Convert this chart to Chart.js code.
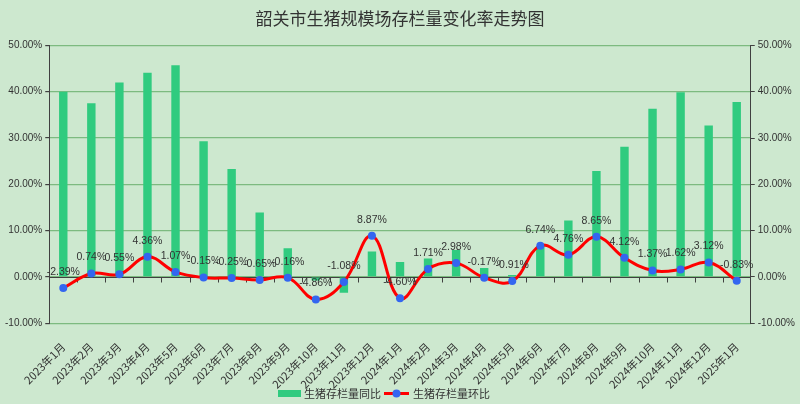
<!DOCTYPE html>
<html>
<head>
<meta charset="utf-8">
<script src="https://cdn.jsdelivr.net/npm/chart.js@4/dist/chart.umd.min.js"></script>
<style>
html,body{margin:0;padding:0;background:#cde8cf;}
#wrap{width:800px;height:404px;}
</style>
</head>
<body>
<div id="wrap"><canvas id="c" width="800" height="404"></canvas></div>
<script>
const categories = ['2023年1月','2023年2月','2023年3月','2023年4月','2023年5月','2023年6月','2023年7月','2023年8月','2023年9月','2023年10月','2023年11月','2023年12月','2024年1月','2024年2月','2024年3月','2024年4月','2024年5月','2024年6月','2024年7月','2024年8月','2024年9月','2024年10月','2024年11月','2024年12月','2025年1月'];
const yoyValues = [40.0, 37.5, 42.0, 44.1, 45.7, 29.3, 23.3, 13.9, 6.2, -0.8, -3.4, 5.5, 3.2, 4.0, 5.8, 1.9, 0.4, 6.7, 12.2, 22.9, 28.1, 36.3, 39.9, 32.7, 37.8];
const momValues = [-2.39, 0.74, 0.55, 4.36, 1.07, -0.15, -0.25, -0.65, -0.16, -4.86, -1.08, 8.87, -4.60, 1.71, 2.98, -0.17, -0.91, 6.74, 4.76, 8.65, 4.12, 1.37, 1.62, 3.12, -0.83];
const seriesNames = ['生猪存栏量同比', '生猪存栏量环比'];
const titleText = '韶关市生猪规模场存栏量变化率走势图';

const BG = '#cde8cf';
const BAR = '#30cb7f';
const LINE = '#ff0000';
const PT = '#3366f0';
const GRID = '#7dba80';
const AXIS = '#404040';
const TXT = '#333333';
const CJK = '"Noto Sans CJK SC", "Liberation Sans", sans-serif';
const NUM = '"Liberation Sans", "Noto Sans", sans-serif';

const bgPlugin = {
  id:'bg',
  beforeDraw(chart){
    const ctx = chart.ctx; ctx.save(); ctx.fillStyle = BG; ctx.fillRect(0,0,chart.width,chart.height); ctx.restore();
  }
};
const zeroLinePlugin = {
  id:'zeroLine',
  beforeDatasetsDraw(chart){
    const x = chart.scales.x, y = chart.scales.y, ctx = chart.ctx;
    const y0 = Math.round(y.getPixelForValue(0)) + 0.5;
    ctx.save(); ctx.strokeStyle = AXIS; ctx.lineWidth = 1;
    ctx.beginPath(); ctx.moveTo(chart.chartArea.left, y0); ctx.lineTo(chart.chartArea.right, y0);
    for (let i = 0; i < categories.length - 1; i++){
      const bx = Math.round((x.getPixelForValue(i) + x.getPixelForValue(i+1))/2) + 0.5;
      ctx.moveTo(bx, y0); ctx.lineTo(bx, y0 + 5);
    }
    ctx.stroke(); ctx.restore();
  }
};
const labelPlugin = {
  id:'pctLabels',
  afterDatasetsDraw(chart){
    const meta = chart.getDatasetMeta(1), ctx = chart.ctx;
    ctx.save(); ctx.font = '10.5px ' + NUM; ctx.fillStyle = TXT; ctx.textAlign = 'center'; ctx.textBaseline = 'middle';
    meta.data.forEach((pt, i) => {
      ctx.fillText(momValues[i].toFixed(2) + '%', pt.x, pt.y - 16);
    });
    ctx.restore();
  }
};
const legendPlugin = {
  id:'customLegend',
  afterDraw(chart){
    const ctx = chart.ctx;
    ctx.save();
    ctx.font = '11px ' + CJK; ctx.fillStyle = TXT; ctx.textBaseline = 'middle'; ctx.textAlign = 'left';
    const cy = 393.5;
    let x = 278;
    ctx.fillStyle = BAR; ctx.fillRect(x, cy - 3.5, 23, 7);
    x += 26;
    ctx.fillStyle = TXT; ctx.fillText(seriesNames[0], x, cy);
    x += ctx.measureText(seriesNames[0]).width + 3;
    ctx.strokeStyle = LINE; ctx.lineWidth = 3;
    ctx.beginPath(); ctx.moveTo(x, cy); ctx.lineTo(x + 25, cy); ctx.stroke();
    ctx.fillStyle = PT; ctx.beginPath(); ctx.arc(x + 12.5, cy, 4, 0, Math.PI*2); ctx.fill();
    x += 29;
    ctx.fillStyle = TXT; ctx.fillText(seriesNames[1], x, cy);
    ctx.restore();
  }
};

const pctTick = v => v.toFixed(2) + '%';

new Chart(document.getElementById('c'), {
  data: {
    labels: categories,
    datasets: [
      { type:'bar', label: seriesNames[0], data: yoyValues, backgroundColor: BAR, borderWidth: 0,
        barPercentage: 0.3, categoryPercentage: 1.0, yAxisID:'y', order: 2 },
      { type:'line', label: seriesNames[1], data: momValues, borderColor: LINE, borderWidth: 3,
        pointRadius: 4, pointHoverRadius: 4, pointBackgroundColor: PT, pointBorderColor: PT, pointBorderWidth: 0,
        tension: 0.4, fill: false, yAxisID:'y', order: 1 }
    ]
  },
  options: {
    responsive: false,
    animation: false,
    devicePixelRatio: 1,
    layout: { padding: { left: 2, right: 2, top: 0, bottom: 4 } },
    plugins: {
      title: { display: true, text: titleText, color: TXT, font: { size: 17, family: CJK, weight: 'normal' },
        padding: { top: 8, bottom: 17 } },
      legend: { display: false },
      tooltip: { enabled: false }
    },
    scales: {
      x: { offset: true,
        grid: { display: false }, border: { display: false },
        ticks: { autoSkip: false, minRotation: 45, maxRotation: 45, color: TXT, font: { size: 11, family: CJK }, padding: 9 }
      },
      y: { position: 'left', min: -10, max: 50,
        ticks: { stepSize: 10, callback: pctTick, color: TXT, font: { size: 10, family: NUM }, padding: 3 },
        grid: { color: GRID, tickColor: AXIS, tickLength: 4, lineWidth: 1.2 },
        border: { color: AXIS, width: 1 }
      },
      y2: { position: 'right', min: -10, max: 50,
        ticks: { stepSize: 10, callback: pctTick, color: TXT, font: { size: 10, family: NUM }, padding: 3 },
        grid: { drawOnChartArea: false, tickColor: AXIS, tickLength: 4 },
        border: { color: AXIS, width: 1 }
      }
    }
  },
  plugins: [bgPlugin, zeroLinePlugin, labelPlugin, legendPlugin]
});
</script>
</body>
</html>
